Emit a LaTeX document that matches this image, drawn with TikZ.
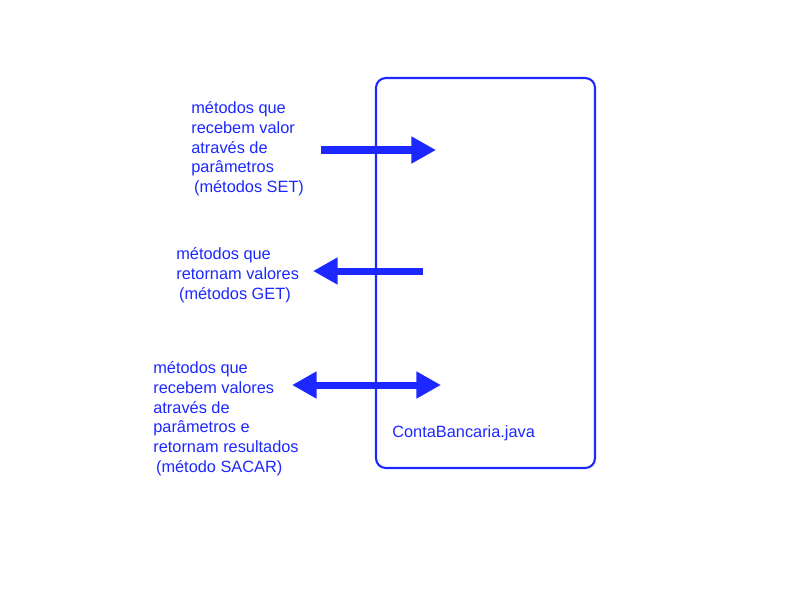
\documentclass[tikz,border=0pt]{standalone}
\usepackage{fontspec}
\setmainfont{Liberation Sans}
\definecolor{javablue}{RGB}{28, 40, 255}
\usetikzlibrary{arrows.meta, positioning}

\begin{document}
\begin{tikzpicture}[x=0.02cm, y=-0.02cm,
    label/.style={text=javablue, font=\fontsize{9.3}{11.3}\selectfont, align=left, anchor=north west, inner sep=0pt},
    callarrow/.style={javablue, line width=4pt, -{Triangle[length=14pt, width=14.5pt]}},
    bothcall/.style={javablue, line width=4pt, {Triangle[length=14pt, width=14.5pt]}-{Triangle[length=14pt, width=14.5pt]}}]
  \useasboundingbox (0,0) rectangle (800,600);

  % Class box
  \node[draw=javablue, line width=1.2pt, rounded corners=5.5pt, minimum width=4.38cm, minimum height=7.8cm, inner sep=0pt] (conta) at (485.5,273) {};
  \node[label] (file) at (392,425) {ContaBancaria.java};

  % SET methods
  \node[label] (setlbl) at (191,101) {métodos que\\recebem valor\\através de\\parâmetros\\\,(métodos SET)};
  \coordinate (setA) at (321,150);
  \coordinate (setB) at (436,150);
  \draw[callarrow] (setA) -- (setB);

  % GET methods
  \node[label] (getlbl) at (176,247) {métodos que\\retornam valores\\\,(métodos GET)};
  \coordinate (getA) at (423,271);
  \coordinate (getB) at (313,271);
  \draw[callarrow] (getA) -- (getB);

  % SACAR method
  \node[label] (sacarlbl) at (153,361) {métodos que\\recebem valores\\através de\\parâmetros e\\retornam resultados\\\,(método SACAR)};
  \coordinate (sacarA) at (292,385);
  \coordinate (sacarB) at (441,385);
  \draw[bothcall] (sacarA) -- (sacarB);
\end{tikzpicture}
\end{document}
